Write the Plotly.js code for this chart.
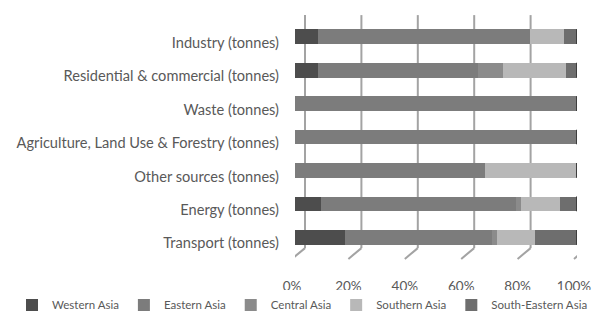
<!DOCTYPE html>
<html>
<head>
<meta charset="utf-8">
<script src="https://cdn.plot.ly/plotly-3.0.1.min.js"></script>
<style>
  html, body { margin: 0; padding: 0; background: #fff; }
  #chart { width: 598px; height: 332px; }
</style>
</head>
<body>
<div id="chart"></div>
<script>
// Emission sources, listed top to bottom
const categories = [
  'Industry (tonnes)',
  'Residential & commercial (tonnes)',
  'Waste (tonnes)',
  'Agriculture, Land Use & Forestry (tonnes)',
  'Other sources (tonnes)',
  'Energy (tonnes)',
  'Transport (tonnes)'
];

// Regional shares (%) for each source, same order as categories
const westernAsia      = [8.0, 8.3, 0,   0,   0,    9.3,  17.7];
const easternAsia      = [75.2, 56.5, 100, 100, 67.4, 69.2, 52.3];
const centralAsia      = [0.3, 8.8, 0,   0,   0,    1.7,  1.7];
const southernAsia     = [11.9, 22.5, 0,  0,   32.6, 13.8, 13.3];
const southEasternAsia = [4.6, 3.9, 0,   0,   0,    6.0,  15.0];

const regionNames = ['Western Asia', 'Eastern Asia', 'Central Asia', 'Southern Asia', 'South-Eastern Asia'];
const regionColors = ['#4d4d4d', '#7c7c7c', '#8b8b8b', '#b8b8b8', '#6e6e6e'];
const seriesValues = [westernAsia, easternAsia, centralAsia, southernAsia, southEasternAsia];

const tickValues = [0, 20, 40, 60, 80, 100];
const tickLabels = ['0%', '20%', '40%', '60%', '80%', '100%'];

const textColor = '#595959';
const fontFamily = 'Lato, "Open Sans", sans-serif';

// Plot-area geometry in pixels
const W = 598, H = 332;
const M = { l: 293, r: 21, t: 20, b: 73 };
const plotW = W - M.l - M.r;
const plotH = H - M.t - M.b;
const plotBottom = H - M.b;
const paperY = py => (plotBottom - py) / plotH;
const paperX = px => (px - M.l) / plotW;

const traces = regionNames.map((name, k) => ({
  type: 'bar',
  orientation: 'h',
  name: name,
  y: categories,
  x: seriesValues[k],
  width: 0.44,
  marker: { color: regionColors[k], line: { width: 0 } },
  hoverinfo: 'skip'
}));

const shapes = [];
// Back-wall gridlines and the floor edges leading to the front axis
tickValues.forEach(v => {
  shapes.push({
    type: 'line', layer: 'below',
    xref: 'x', xsizemode: 'pixel', xanchor: v, x0: 10, x1: 10,
    yref: 'paper', y0: paperY(253), y1: paperY(15),
    line: { color: '#a3a3a3', width: 2 }
  });
  shapes.push({
    type: 'line', layer: 'below',
    xref: 'x', xsizemode: 'pixel', xanchor: v, x0: 10, x1: -3,
    yref: 'paper', y0: paperY(253), y1: paperY(264),
    line: { color: '#a3a3a3', width: 2 }
  });
});
// Dark side face at the right end of each bar
categories.forEach((c, i) => {
  const pos = categories.length - 1 - i;
  shapes.push({
    type: 'rect', layer: 'above',
    xref: 'x', xsizemode: 'pixel', xanchor: 100, x0: -1, x1: 3,
    yref: 'y', y0: pos - 0.22, y1: pos + 0.22,
    fillcolor: '#3e3e3e', line: { width: 0 }
  });
});

const layout = {
  width: W, height: H,
  margin: M,
  paper_bgcolor: '#ffffff',
  plot_bgcolor: 'rgba(0,0,0,0)',
  barmode: 'stack',
  barnorm: 'percent',
  font: { family: fontFamily, color: textColor, size: 13 },
  xaxis: {
    range: [0, 100],
    tickvals: tickValues,
    ticktext: tickLabels,
    showgrid: false, zeroline: false, showline: false,
    ticks: '', ticklabelstandoff: 22, ticklabelshift: -3,
    tickfont: { family: fontFamily, size: 13.5, color: textColor },
    fixedrange: true
  },
  yaxis: {
    categoryorder: 'array',
    categoryarray: categories.slice().reverse(),
    range: [-0.5, categories.length - 0.5],
    showgrid: false, zeroline: false, showline: false,
    ticks: '', ticklabelstandoff: 15, ticklabelshift: 6,
    tickfont: { family: fontFamily, size: 14.6, color: textColor },
    fixedrange: true
  },
  shapes: shapes,
  showlegend: true,
  legend: {
    orientation: 'h',
    x: paperX(8), xanchor: 'left',
    y: paperY(311), yanchor: 'middle',
    font: { family: fontFamily, size: 11.5, color: textColor },
    traceorder: 'normal',
    itemclick: false, itemdoubleclick: false
  }
};

Plotly.newPlot('chart', traces, layout, { staticPlot: true, displayModeBar: false });
</script>
</body>
</html>
